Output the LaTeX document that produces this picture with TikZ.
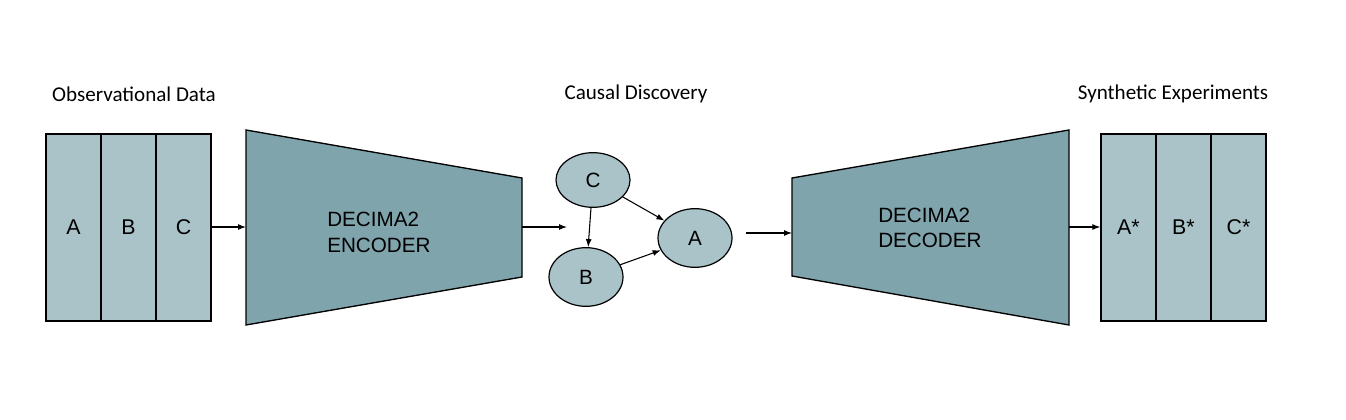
\documentclass[tikz,border=0pt]{standalone}
\usepackage{fontspec}
\setmainfont{Liberation Sans}
\newfontfamily\titlefont{Carlito}
\usepackage{tikz}
\usetikzlibrary{positioning,arrows.meta,shapes.geometric}

\definecolor{cellfill}{HTML}{A9C3C8}
\definecolor{netfill}{HTML}{7FA4AC}

\begin{document}
\begin{tikzpicture}[
        x=0.75pt, y=-0.75pt,
        every node/.style={font=\fontsize{15.5}{19}\selectfont},
        cell/.style={rectangle, draw=black, line width=1pt, fill=cellfill, minimum width=41.25pt, minimum height=140.25pt, inner sep=0pt, font=\fontsize{16}{19}\selectfont},
        var/.style={ellipse, draw=black, line width=0.9pt, fill=cellfill, minimum width=55.5pt, minimum height=44pt, inner sep=0pt, font=\fontsize{15.5}{18}\selectfont},
        net/.style={draw=black, line width=1pt, fill=netfill},
        netlabel/.style={anchor=west, align=left, inner sep=0pt},
        heading/.style={font=\titlefont\fontsize{15.8}{19}\selectfont},
        arrow/.style={-{Latex[length=6pt,width=4.5pt]}, line width=0.8pt, draw=black}
        ]
        \useasboundingbox (0,0) rectangle (1346,420);

        % Headings
        \node[heading] (obs-title) at (134,94) {Observational Data};
        \node[heading] (cd-title) at (636,94) {Causal Discovery};
        \node[heading] (syn-title) at (1173,94) {Synthetic Experiments};

        % Observational data columns
        \node[cell] (obs-a) at (73.5,227.5) {A};
        \node[cell] (obs-b) at (128.5,227.5) {B};
        \node[cell] (obs-c) at (183.5,227.5) {C};

        % Encoder
        \draw[net] (246,130) -- (522,178) -- (522,277) -- (246,325) -- cycle;
        \node[netlabel] (enc) at (327,232.5) {DECIMA2\\ENCODER};
        \coordinate (enc-in) at (246,227);
        \coordinate (enc-out) at (522,227);
        \coordinate (graph-in) at (567,227);

        % Causal graph
        \node[var, minimum height=41pt] (c) at (593,180) {C};
        \node[var] (b) at (586,277) {B};
        \node[var] (a) at (695,238) {A};
        \coordinate (graph-out) at (746,233);

        % Decoder
        \draw[net] (792,178) -- (1069,130) -- (1069,325) -- (792,276) -- cycle;
        \node[netlabel] (dec) at (878,228) {DECIMA2\\DECODER};
        \coordinate (dec-in) at (792,233);
        \coordinate (dec-out) at (1069,227);

        % Synthetic experiment columns
        \node[cell] (syn-a) at (1128.5,227.5) {A*};
        \node[cell] (syn-b) at (1183.5,227.5) {B*};
        \node[cell] (syn-c) at (1238.5,227.5) {C*};

        % Connections
        \draw[arrow] (obs-c.east |- enc-in) -- (enc-in);
        \draw[arrow] (enc-out) -- (graph-in);
        \draw[arrow] (c) -- (b);
        \draw[arrow] (c) -- (a);
        \draw[arrow] (b) -- (a);
        \draw[arrow] (graph-out) -- (dec-in);
        \draw[arrow] (dec-out) -- (syn-a.west |- dec-out);

    \end{tikzpicture}
\end{document}
